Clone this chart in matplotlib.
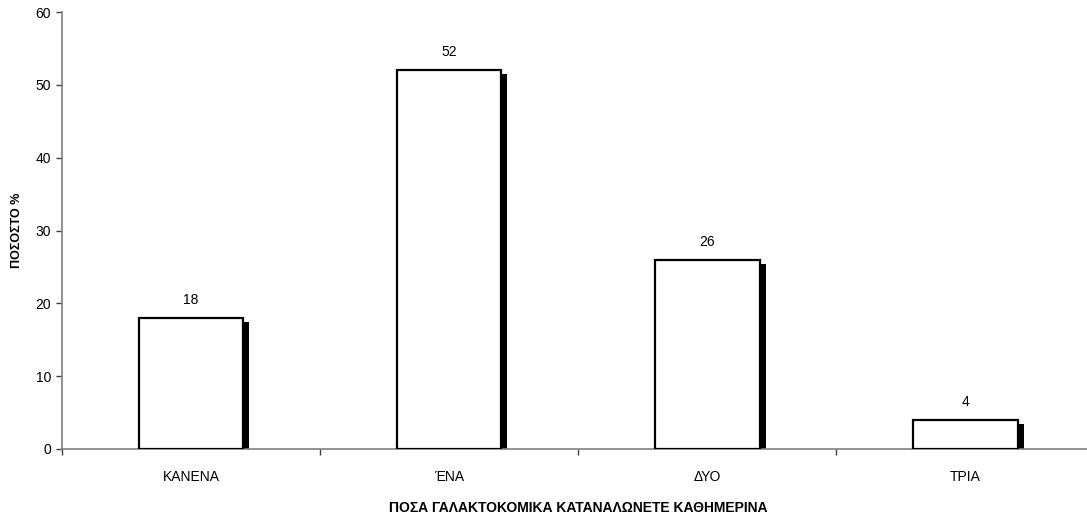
import matplotlib
matplotlib.use("Agg")
import matplotlib.pyplot as plt
import numpy as np

categories = ["ΚΑΝΕΝΑ", "ΈΝΑ", "ΔΥΟ", "ΤΡΙΑ"]
values = [18, 52, 26, 4]
y_ticks = [0, 10, 20, 30, 40, 50, 60]

plt.rcParams["font.family"] = ["Liberation Sans", "DejaVu Sans"]

fig = plt.figure(figsize=(10.87, 5.14), dpi=100)
ax = fig.add_axes([62 / 1087, 65 / 514, (1094.5 - 62) / 1087, 437 / 514])

x = np.arange(len(categories))
width = 0.405

# drop shadow behind each bar, offset right and down
dx = 6 / 258.3
dy = 4 / (437 / 60)
shadow_h = [max(v - dy, 0) for v in values]
ax.bar(x + dx, shadow_h, width=width, color="black", linewidth=0, zorder=2)
ax.bar(x, values, width=width, color="white", edgecolor="black", linewidth=1.6, zorder=3)

for xi, v in zip(x, values):
    ax.annotate(str(v), (xi, v), xytext=(0, 8), textcoords="offset points",
                ha="center", va="bottom", fontsize=10)

ax.set_xlim(-0.5, len(categories) - 0.5)
ax.set_ylim(0, 60)
ax.set_yticks(y_ticks)
ax.set_xticks(x)
ax.set_xticklabels(categories, fontsize=10)
ax.set_xticks(np.arange(len(categories) + 1) - 0.5, minor=True)
ax.tick_params(axis="x", which="major", length=0, pad=15)
ax.tick_params(axis="x", which="minor", length=4, color="#404040", width=1)
ax.tick_params(axis="y", length=4, color="#404040", width=1, labelsize=10, pad=4)

for side in ("top", "right"):
    ax.spines[side].set_visible(False)
for side in ("left", "bottom"):
    ax.spines[side].set_color("#808080")
    ax.spines[side].set_linewidth(1.2)

ax.set_ylabel("ΠΟΣΟΣΤΟ %", fontsize=9, fontweight="bold")
ax.yaxis.set_label_coords(-(62 - 23) / (1094.5 - 62), 0.5)
ax.set_xlabel("ΠΟΣΑ ΓΑΛΑΚΤΟΚΟΜΙΚΑ ΚΑΤΑΝΑΛΩΝΕΤΕ ΚΑΘΗΜΕΡΙΝΑ", fontsize=10,
              fontweight="bold")
ax.xaxis.set_label_coords((578 - 62) / (1094.5 - 62), -0.118)

fig.savefig("out.png", dpi=100)
